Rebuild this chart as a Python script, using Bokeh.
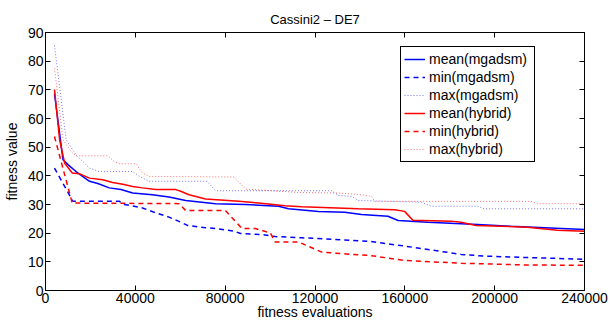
from bokeh.plotting import figure
from bokeh.models import Range1d, LinearAxis, FixedTicker, NumeralTickFormatter, Legend, LegendItem
from bokeh.embed import file_html
from bokeh.resources import INLINE

# ---- data ----
mean_mg_x = [4000, 7800, 10000, 13600, 19600, 23300, 28400, 33600, 38800, 47600, 55000, 62400, 75700,
             89000, 103800, 108200, 121500, 133300, 140700, 152500, 157000, 170300, 192400, 207200, 240000]
mean_mg_y = [68.7, 45.6, 43.9, 41.5, 38.1, 37.3, 35.8, 35.2, 34.0, 33.4, 32.6, 31.4, 30.3,
             30.0, 29.4, 28.5, 27.6, 27.3, 26.5, 25.9, 24.4, 23.8, 23.0, 22.4, 21.3]

min_mg_x = [4000, 12200, 32900, 35100, 43200, 49100, 55000, 60900, 63200, 71300, 77200, 83900,
            86800, 96400, 102300, 114100, 143700, 159900, 170300, 185100, 195400, 214600, 240000]
min_mg_y = [42.7, 31.1, 31.1, 30.0, 28.8, 27.1, 25.6, 23.6, 22.7, 21.9, 21.5, 20.7,
            19.9, 19.5, 18.8, 18.4, 17.2, 15.5, 14.3, 12.6, 12.0, 11.5, 10.9]

max_mg_x = [4000, 9200, 13600, 19600, 24000, 38800, 41800, 46200, 72000, 75700, 127400, 130400,
            136300, 139300, 167300, 171700, 192400, 195400, 240000]
max_mg_y = [85.5, 52.6, 47.3, 42.7, 41.5, 41.5, 39.8, 38.1, 38.1, 34.8, 34.8, 33.2,
            32.8, 31.4, 30.8, 29.4, 29.4, 28.5, 28.5]

mean_hy_x = [4000, 6300, 8500, 11900, 15200, 19600, 25500, 29900, 34400, 38800, 43200, 49100, 58000,
             60200, 63900, 71300, 86100, 94900, 106700, 114100, 139300, 155500, 159900, 163600, 180600,
             185100, 191700, 214600, 227900, 240000]
mean_hy_y = [70.1, 52.5, 44.5, 41.0, 40.7, 39.2, 38.6, 37.7, 37.1, 36.3, 35.8, 35.2, 35.2,
             34.6, 33.4, 31.9, 31.1, 30.5, 29.6, 29.2, 28.5, 28.2, 27.6, 24.5, 24.2,
             23.8, 22.7, 22.1, 21.0, 20.7]

min_hy_x = [4000, 11900, 59500, 62400, 80100, 87500, 93400, 100100, 102300, 112700, 123000, 136300,
            143700, 159900, 185100, 214600, 240000]
min_hy_y = [53.7, 30.5, 30.3, 27.9, 27.9, 21.6, 21.6, 20.1, 16.9, 16.9, 13.4, 12.6,
            12.3, 10.5, 9.5, 8.9, 8.8]

max_hy_x = [4000, 7800, 11400, 13600, 27700, 30700, 32900, 40200, 43200, 46200, 83900, 89000,
            112700, 130400, 140700, 145200, 146600, 216100, 219000, 240000]
max_hy_y = [77.5, 52.6, 48.5, 47.0, 47.0, 45.0, 44.2, 44.2, 41.0, 39.8, 39.6, 35.4,
            34.2, 34.0, 33.4, 32.8, 31.1, 31.1, 30.3, 30.3]

x_ticks = [0, 40000, 80000, 120000, 160000, 200000, 240000]
y_ticks = [0, 10, 20, 30, 40, 50, 60, 70, 80, 90]

title_text = "Cassini2 \u2013 DE7"
x_label = "fitness evaluations"
y_label = "fitness value"
series_names = ["mean(mgadsm)", "min(mgadsm)", "max(mgadsm)", "mean(hybrid)", "min(hybrid)", "max(hybrid)"]

FONT = "Liberation Sans"

p = figure(width=610, height=322, x_range=Range1d(0, 240000), y_range=Range1d(0, 90),
           output_backend="svg", toolbar_location=None, title=title_text,
           min_border_left=43, min_border_right=26, min_border_top=32, min_border_bottom=31)

p.title.align = "center"
p.title.text_font = FONT
p.title.text_font_size = "13px"
p.title.text_font_style = "normal"
p.title.text_color = "black"
p.title.standoff = 11

p.grid.visible = False
p.outline_line_color = "black"
p.outline_line_alpha = 1.0
p.outline_line_width = 1
p.background_fill_color = "white"
p.border_fill_color = "white"

p.xaxis.ticker = FixedTicker(ticks=x_ticks, minor_ticks=[])
p.xaxis.formatter = NumeralTickFormatter(format="0")
p.yaxis.ticker = FixedTicker(ticks=y_ticks, minor_ticks=[])
p.xaxis.axis_label = x_label
p.yaxis.axis_label = y_label

for ax in [p.xaxis[0], p.yaxis[0]]:
    ax.major_tick_in = 5
    ax.major_tick_out = 0
    ax.minor_tick_line_color = None
    ax.axis_line_color = "black"
    ax.major_tick_line_color = "black"
    ax.major_label_text_font = FONT
    ax.major_label_text_font_size = "14px"
    ax.major_label_text_color = "black"
    ax.axis_label_text_font = FONT
    ax.axis_label_text_font_size = "14px"
    ax.axis_label_text_font_style = "normal"
    ax.axis_label_text_color = "black"

p.xaxis.major_label_standoff = 2
p.xaxis.axis_label_standoff = -2
p.yaxis.major_label_standoff = 2
p.yaxis.axis_label_standoff = 5

# top/right tick marks (MATLAB box)
top = LinearAxis(ticker=FixedTicker(ticks=x_ticks, minor_ticks=[]), major_tick_in=5, major_tick_out=0,
                 major_label_text_color=None, minor_tick_line_color=None, axis_line_color="black",
                 major_label_standoff=0, major_label_text_font_size="1px")
right = LinearAxis(ticker=FixedTicker(ticks=y_ticks, minor_ticks=[]), major_tick_in=5, major_tick_out=0,
                   major_label_text_color=None, minor_tick_line_color=None, axis_line_color="black",
                   major_label_standoff=0, major_label_text_font_size="1px")
p.add_layout(top, "above")
p.add_layout(right, "right")

r1 = p.line(mean_mg_x, mean_mg_y, line_color="#0000ff", line_width=1.5)
r2 = p.line(min_mg_x, min_mg_y, line_color="#0000ff", line_width=1.5, line_dash="5 4")
r3 = p.line(max_mg_x, max_mg_y, line_color="#0000ff", line_width=1, line_dash="1 2", line_alpha=0.55)
r4 = p.line(mean_hy_x, mean_hy_y, line_color="#ff0000", line_width=1.5)
r5 = p.line(min_hy_x, min_hy_y, line_color="#ff0000", line_width=1.5, line_dash="5 4")
r6 = p.line(max_hy_x, max_hy_y, line_color="#ff0000", line_width=1, line_dash="1 2", line_alpha=0.55)

items = [LegendItem(label=n, renderers=[r]) for n, r in zip(series_names, [r1, r2, r3, r4, r5, r6])]
legend = Legend(items=items, location=(355, 128), label_text_font=FONT, label_text_font_size="14px",
                label_text_color="black", border_line_color="black", border_line_alpha=1.0, border_line_width=1,
                background_fill_color="white", background_fill_alpha=1.0,
                glyph_width=21, glyph_height=18, label_height=18, label_width=102, label_standoff=4,
                spacing=0, padding=3, margin=0)
p.add_layout(legend, "center")

open("out.html", "w").write(file_html(p, INLINE))
